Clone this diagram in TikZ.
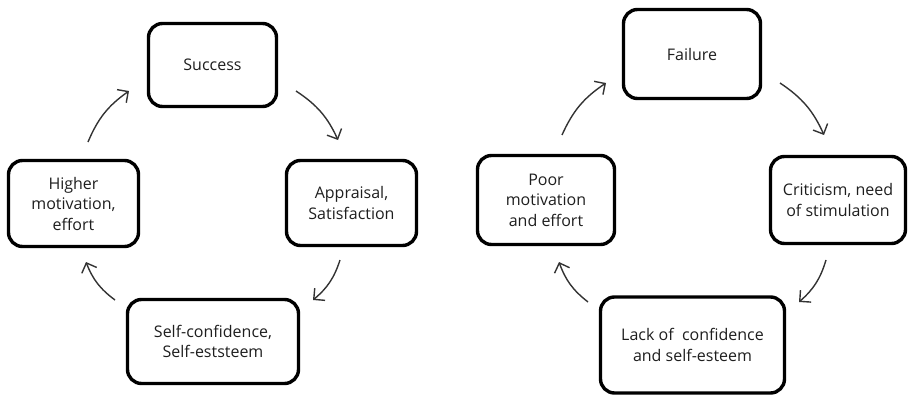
\documentclass[tikz,border=0pt]{standalone}
\usepackage{fontspec}
\setmainfont{Open Sans}
\usetikzlibrary{arrows.meta}
\definecolor{txt}{HTML}{1E1E1E}
\definecolor{arr}{HTML}{333333}
\tikzset{
  cyclebox/.style={draw=black, line width=3.4pt, rounded corners=14pt, align=center,
    text=txt, font=\fontsize{16}{20.5}\selectfont, inner sep=0pt},
  cyclearrow/.style={draw=arr, line width=1.4pt, bend left=16,
    -{Straight Barb[length=8pt,width=16pt,line width=1.4pt]}}
}
\begin{document}
\begin{tikzpicture}[x=1pt,y=1pt]
\useasboundingbox (0,-396) rectangle (909,0);
% left cycle
\node[cyclebox, minimum width=128pt, minimum height=83pt] (succ) at (212.5,-65) {Success};
\node[cyclebox, minimum width=130pt, minimum height=85pt] (appr) at (351.5,-203) {Appraisal,\\Satisfaction};
\node[cyclebox, minimum width=171pt, minimum height=84pt] (self) at (213,-341.5) {Self-confidence,\\Self-eststeem};
\node[cyclebox, minimum width=130pt, minimum height=86pt] (high) at (73.5,-203.5) {Higher\\motivation,\\effort};
% right cycle
\node[cyclebox, minimum width=137pt, minimum height=89pt] (fail) at (692,-54) {Failure};
\node[cyclebox, minimum width=135pt, minimum height=87pt] (crit) at (838,-200) {Criticism, need\\of stimulation};
\node[cyclebox, minimum width=184pt, minimum height=96pt] (lack) at (692.5,-345) {Lack of\ \ confidence\\and self-esteem};
\node[cyclebox, minimum width=137pt, minimum height=89pt] (poor) at (546,-200) {Poor\\motivation\\and effort};
% arrow end points
\coordinate (s1) at (296,-91);  \coordinate (a1) at (338,-140);
\coordinate (a2) at (340,-260); \coordinate (b1) at (313,-300);
\coordinate (b2) at (115,-300); \coordinate (h1) at (86,-262);
\coordinate (h2) at (88,-142);  \coordinate (s2) at (129,-91);
\coordinate (f1) at (780,-83);  \coordinate (c1) at (824,-135);
\coordinate (c2) at (826,-260); \coordinate (l1) at (799,-302);
\coordinate (l2) at (588,-302); \coordinate (p1) at (559,-262);
\coordinate (p2) at (562,-135); \coordinate (f2) at (606,-83);
\draw[cyclearrow] (s1) to (a1);
\draw[cyclearrow] (a2) to (b1);
\draw[cyclearrow] (b2) to (h1);
\draw[cyclearrow] (h2) to (s2);
\draw[cyclearrow] (f1) to (c1);
\draw[cyclearrow] (c2) to (l1);
\draw[cyclearrow] (l2) to (p1);
\draw[cyclearrow] (p2) to (f2);
\end{tikzpicture}
\end{document}
